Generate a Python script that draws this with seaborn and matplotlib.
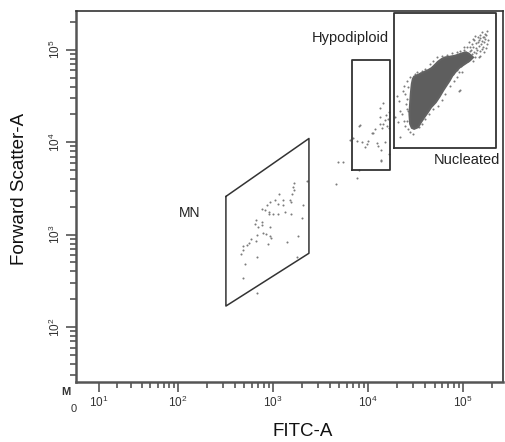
import numpy as np
import pandas as pd
import matplotlib
matplotlib.use("Agg")
import matplotlib.pyplot as plt
import seaborn as sns

# ---------------- events: FITC-A vs Forward Scatter-A ----------------
# micronuclei (MN) population
mn_fitc = [1660, 1610, 1660, 1570, 1510, 1540, 1160, 1050, 930, 859,
           1140, 1260, 760, 824, 915, 915, 1010, 1140, 1340, 1540,
           2000, 662, 647, 760, 760, 700, 930, 791, 843, 930,
           946, 673, 662, 582, 563, 529, 487, 480, 460, 673,
           893, 1420, 1850, 1800, 507, 480, 2300, 673, 2080, 1280]
mn_fsc = [3610, 3270, 3010, 2770, 2390, 2250, 2770, 2390, 2250, 2070,
          2160, 2110, 1910, 1860, 1750, 1660, 1690, 1690, 1750, 1690,
          1530, 1430, 1310, 1370, 1260, 1210, 1210, 1030, 1010, 960,
          920, 984, 853, 906, 813, 767, 748, 678, 614, 574,
          787, 834, 966, 574, 479, 344, 3790, 234, 2070, 2350]

# hypodiploid population and stragglers below it
hypo_fitc = [14500, 13200, 15500, 16600, 15100, 14500, 13200, 13900, 15700, 16400,
             8100, 10900, 11400, 6900, 6470, 7600, 8590, 9690, 10100, 12500,
             12800, 14900, 13700, 16600, 13700, 8100, 7600, 4860, 5500, 4600,
             8240, 11900, 13400, 16100, 9300, 13600]
hypo_fsc = [26400, 23500, 19900, 21000, 17400, 15800, 15800, 14300, 14800, 14300,
            15100, 12600, 12600, 11100, 10600, 10400, 10000, 9440, 10400, 9750,
            8980, 10000, 8270, 7360, 6230, 5030, 4130, 6180, 6180, 3560,
            15400, 13900, 18600, 17900, 8830, 6340]

# sparse nucleated events around the dense core
nuc_fitc = [177400, 170600, 161100, 151000, 141600, 133700, 128500, 163700, 153500, 144900,
            137100, 123300, 118600, 157400, 148600, 139300, 130600, 123300, 170600, 177400,
            166300, 151000, 133700, 126500, 109400, 100900, 93100, 85700, 76000, 67300,
            59600, 52800, 48700, 45000, 39800, 36700, 32500, 93100, 89300, 85700,
            96800, 93100, 89300, 79100, 72900, 64700, 59600, 55000, 48700, 43200,
            39800, 36700, 33900, 27700, 30000, 26600, 24500, 23600, 21700, 22600,
            20800, 20000, 21400, 23200, 24500, 25500, 25900, 19200, 21700, 25100,
            26600, 25500, 23600,
            109300, 116600, 105000, 99200, 89300, 82400, 76000, 141600, 126500, 134900,
            146200, 156000, 166300, 174600, 158500, 148600, 120500, 114800, 107700, 96800,
            102500, 126500, 137100, 145200, 161100, 171800, 180300, 118600, 111200, 105000,
            94400, 85700, 77800, 70100, 64700, 57300, 52800, 48000, 44300, 38300,
            34700, 32000, 30000, 31300, 35200, 41500, 46800, 52800, 62100, 27700,
            26600, 25900]
nuc_fsc = [160300, 147600, 138100, 145200, 135800, 141600, 127000, 119900, 115100, 110400,
           116900, 115100, 107700, 101600, 95900, 99100, 93500, 89700, 130300, 115100,
           93500, 86100, 82600, 76000, 107700, 99100, 97500, 93500, 91400, 88300,
           86100, 82600, 76000, 70000, 61800, 59300, 56900, 76000, 56900, 50300,
           56900, 37000, 36100, 46300, 40900, 33300, 28600, 24900, 22900, 20200,
           17900, 15800, 14500, 12800, 12300, 13900, 15100, 17100, 22000, 20200,
           16400, 31900, 28200, 36100, 33300, 22900, 29400, 18900, 11300, 25900,
           39300, 46300, 40900,
           86100, 97500, 82600, 79300, 82600, 76000, 70000, 119900, 105900, 104200,
           127000, 125000, 138100, 145200, 153800, 133700, 99100, 119900, 93500, 88300,
           105900, 130300, 91400, 82600, 107700, 104200, 127000, 79300, 76000, 72900,
           67100, 60400, 54700, 48200, 42700, 38500, 33300, 29400, 25900, 22000,
           18900, 16400, 15100, 54600, 55600, 59300, 65600, 72900, 81300, 50300,
           22000, 17100]

# outline of the saturated nucleated core
core_fitc = [28840, 27670, 27220, 27670, 28120, 28840, 29580, 30480, 33810, 38190,
             43150, 46860, 50700, 54950, 59680, 64700, 72950, 82400, 92900, 105000,
             113700, 127000, 117000, 104000, 92000, 85000, 77000, 72000, 66500, 61500,
             56500, 51500, 46000, 42500, 39000, 36000, 33500, 30480]
core_fsc = [14290, 15780, 20230, 25940, 33270, 42660, 48310, 51170, 53700, 56890,
            60390, 63500, 68870, 74770, 79430, 82600, 84040, 86140, 89860, 93530,
            91200, 82600, 76070, 70120, 64410, 59330, 52390, 46270, 40900, 36130,
            31120, 26990, 23850, 21050, 18600, 16420, 14510, 13930]

# ---------------- gates ----------------
mn_gate_fitc = [320, 2390, 2390, 320, 320]
mn_gate_fsc = [2590, 10960, 629, 169, 2590]
hypo_gate_fitc = [6730, 16900]
hypo_gate_fsc = [4990, 78000]
nuc_gate_fitc = [18700, 220800]
nuc_gate_fsc = [8610, 249000]

x_major = [10, 100, 1000, 10000, 100000]
x_labels = ["$10^{1}$", "$10^{2}$", "$10^{3}$", "$10^{4}$", "$10^{5}$"]
y_major = [100, 1000, 10000, 100000]
y_labels = ["$10^{2}$", "$10^{3}$", "$10^{4}$", "$10^{5}$"]

# ---------------- style ----------------
sns.set_style("ticks")
plt.rcParams["font.family"] = ["Liberation Sans", "DejaVu Sans"]
plt.rcParams["mathtext.fontset"] = "custom"
plt.rcParams["mathtext.rm"] = "Liberation Sans"
plt.rcParams["mathtext.it"] = "Liberation Sans"

dot_color = "#7c7c7c"
line_color = "#333333"
tick_color = "#555555"

fig = plt.figure(figsize=(5.06, 4.42), dpi=100)
ax = fig.add_axes([76 / 506, 1 - 382 / 442, 427 / 506, 371 / 442])

cof = 17.0
ax.set_xscale("function",
              functions=(lambda v: np.arcsinh(np.asarray(v, dtype=float) / cof),
                         lambda u: cof * np.sinh(np.asarray(u, dtype=float))))
ax.set_yscale("log")
ax.set_xlim(0, 262144)
ax.set_ylim(25.5, 262144)

events = pd.DataFrame({
    "FITC-A": mn_fitc + hypo_fitc + nuc_fitc,
    "FSC-A": mn_fsc + hypo_fsc + nuc_fsc,
})

sns.scatterplot(data=events, x="FITC-A", y="FSC-A", ax=ax, s=2.2, marker="o",
                color=dot_color, linewidth=0, zorder=2, legend=False)
# dense core drawn over the scattered events
ax.fill(core_fitc, core_fsc, color="#5e5e5e", lw=1.5, ec="#626262", zorder=3)

# gates
ax.plot(mn_gate_fitc, mn_gate_fsc, color=line_color, lw=1.1, zorder=4)
for gx, gy in ((hypo_gate_fitc, hypo_gate_fsc), (nuc_gate_fitc, nuc_gate_fsc)):
    ax.plot([gx[0], gx[1], gx[1], gx[0], gx[0]],
            [gy[0], gy[0], gy[1], gy[1], gy[0]],
            color=line_color, lw=1.3, zorder=4)

ax.text(0.642, 0.927, "Hypodiploid", transform=ax.transAxes, ha="center",
        va="center", fontsize=10.5, color="#222222")
ax.text(0.916, 0.598, "Nucleated", transform=ax.transAxes, ha="center",
        va="center", fontsize=10.5, color="#222222")
ax.text(0.267, 0.456, "MN", transform=ax.transAxes, ha="center",
        va="center", fontsize=10, color="#222222")

# ticks
x_minor = [m * 10 ** d for d in range(1, 5) for m in range(2, 10)] + [200000]
y_minor = [m * 10 for m in range(3, 10)] + \
          [m * 10 ** d for d in range(2, 5) for m in range(2, 10)] + [200000]
ax.set_xticks(x_major)
ax.set_xticklabels(x_labels)
ax.set_xticks(x_minor, minor=True)
ax.set_xticklabels([], minor=True)
ax.set_yticks(y_major)
ax.set_yticklabels(y_labels, rotation=90, va="center")
ax.set_yticks(y_minor, minor=True)
ax.set_yticklabels([], minor=True)
ax.tick_params(which="major", direction="out", length=7, width=1.2,
               color=tick_color, labelsize=8.5, labelcolor="#333333", pad=2)
ax.tick_params(which="minor", direction="out", length=4.5, width=1.2,
               color=tick_color)
ax.set_xlabel("")
ax.set_ylabel("")

for side in ("left", "bottom"):
    ax.spines[side].set_color("#555555")
    ax.spines[side].set_linewidth(1.8)
for side in ("top", "right"):
    ax.spines[side].set_color("#333333")
    ax.spines[side].set_linewidth(1.2)

fig.text(303 / 506, 1 - 432 / 442, "FITC-A", ha="center", va="center",
         fontsize=13.5, color="#111111")
fig.text(20 / 506, 1 - 189 / 442, "Forward Scatter-A", ha="center", va="center",
         rotation=90, fontsize=13.5, color="#111111")
fig.text(66 / 506, 1 - 392 / 442, "M", ha="center", va="center",
         fontsize=8, fontweight="bold", color="#333333")
fig.text(74 / 506, 1 - 409 / 442, "0", ha="center", va="center",
         fontsize=8, color="#333333")

fig.savefig("out.png", dpi=100)
